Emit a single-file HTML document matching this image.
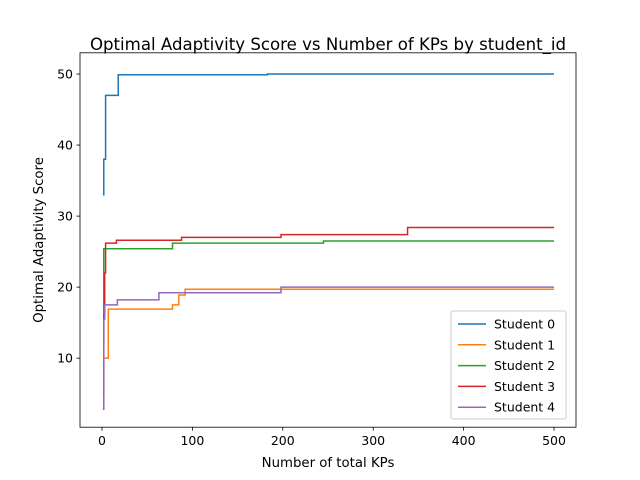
<!DOCTYPE html>
<html><head><meta charset="utf-8"><style>
body{margin:0;background:#fff;}
svg{display:block;font-family:"DejaVu Sans","Liberation Sans",sans-serif;}
</style></head><body>
<svg id="chart" width="640" height="480">
<rect width="640" height="480" fill="#fff"/>
<text x="328" y="50" font-size="16.6" text-anchor="middle">Optimal Adaptivity Score vs Number of KPs by student_id</text>
<g id="plot"></g>
<rect x="80" y="52.8" width="496" height="374.4" fill="none" stroke="#000" stroke-width="0.8"/>
<text x="328" y="467" font-size="13.3" text-anchor="middle">Number of total KPs</text>
<text transform="translate(43,240) rotate(-90)" font-size="13.3" text-anchor="middle">Optimal Adaptivity Score</text>
<g id="legend"></g>
</svg>
<script>
const xTicks=[0,100,200,300,400,500];
const yTicks=[10,20,30,40,50];
const seriesNames=["Student 0","Student 1","Student 2","Student 3","Student 4"];
const s0x=[1,2,4,18,183,500];const s0y=[33,38,47,49.9,50,50];
const s1x=[1,2,7,78,85,92,500];const s1y=[3,10,16.9,17.5,18.9,19.7,19.7];
const s2x=[1,2,78,245,500];const s2y=[12,25.4,26.2,26.5,26.5];
const s3x=[1,2,3,4,16,88,198,338,500];const s3y=[5,16,22,26.2,26.6,27.0,27.4,28.4,28.4];
const s4x=[1,2,3,17,63,198,500];const s4y=[2.8,15.5,17.5,18.2,19.2,20.0,20.0];
const colors=["#1f77b4","#ff7f0e","#2ca02c","#d62728","#9467bd"];
const NS="http://www.w3.org/2000/svg";
const X0=80,X1=576,Y0=427.2,Y1=52.8,xmin=-24.3,xmax=524.3,ymin=0.28,ymax=52.99;
function sx(v){return X0+(v-xmin)/(xmax-xmin)*(X1-X0);}
function sy(v){return Y0-(v-ymin)/(ymax-ymin)*(Y0-Y1);}
const plot=document.getElementById('plot');
function mk(t,a,p){const e=document.createElementNS(NS,t);for(const k in a)e.setAttribute(k,a[k]);(p||plot).appendChild(e);return e;}
xTicks.forEach(t=>{
 const l=mk('line',{x1:sx(t),x2:sx(t),y1:Y0,y2:Y0+3.5,stroke:'#000','stroke-width':0.8});
 
 
 const tx=mk('text',{x:sx(t),y:Y0+18,'font-size':12.5,'text-anchor':'middle'});tx.textContent=t;
 
 
});
yTicks.forEach(t=>{
 const l=mk('line',{x1:X0-3.5,x2:X0,y1:sy(t),y2:sy(t),stroke:'#000','stroke-width':0.8});
 
 
 const tx=mk('text',{x:X0-7,y:sy(t)+4.5,'font-size':12.5,'text-anchor':'end'});tx.textContent=t;
 
 
});
const all=[[s0x,s0y],[s1x,s1y],[s2x,s2y],[s3x,s3y],[s4x,s4y]];
all.forEach((s,i)=>{
 let d='';
 s[0].forEach((x,j)=>{
  if(j===0)d+='M'+sx(x)+','+sy(s[1][j]);
  else d+='L'+sx(x)+','+sy(s[1][j-1])+'L'+sx(x)+','+sy(s[1][j]);
 });
 const p=mk('path',{d:d,fill:'none',stroke:colors[i],'stroke-width':1.5});
 
 
});
const lg=document.getElementById('legend');
const box=mk('rect',{x:451,y:311,width:115,height:108,rx:2,fill:'#fff','fill-opacity':0.8,stroke:'#ccc','stroke-width':1},lg);


seriesNames.forEach((n,i)=>{
 const y=324+i*20.8;
 const l=mk('line',{x1:458,x2:486,y1:y,y2:y,stroke:colors[i],'stroke-width':1.5},lg);
 
 
 const t=mk('text',{x:494,y:y+4.5,'font-size':12.5},lg);t.textContent=n;
 
 
});
</script>
</body></html>
